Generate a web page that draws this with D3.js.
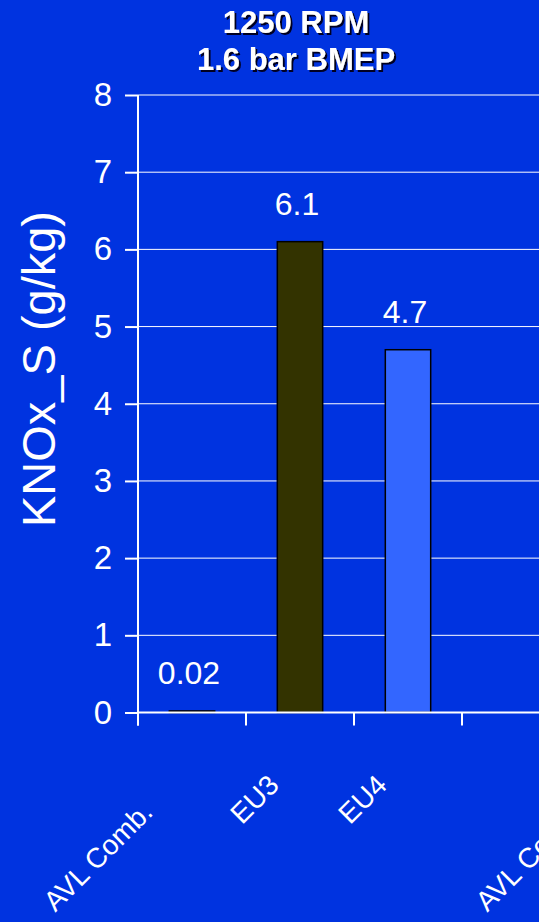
<!DOCTYPE html>
<html>
<head>
<meta charset="utf-8">
<script src="https://cdn.jsdelivr.net/npm/d3@7"></script>
<style>
  html, body { margin: 0; padding: 0; background: #0033e0; }
  svg { display: block; }
  text { font-family: "Liberation Sans", Arial, sans-serif; fill: #ffffff; }
</style>
</head>
<body>
<script>
// Category axis (a blank slot separates the groups; the next group continues past the right edge)
const categories = ["AVL Comb.", "EU3", "EU4", "", "AVL Comb."];
// KNOx_S in g/kg at 1250 RPM / 1.6 bar BMEP
const knox = [0.02, 6.1, 4.7, null, null];
const barFills = ["#111111", "#333300", "#3366ff", null, null];
const yTicks = [0, 1, 2, 3, 4, 5, 6, 7, 8];
const titleLines = ["1250 RPM", "1.6 bar BMEP"];
const yTitle = "KNOx_S (g/kg)";

const W = 539, H = 922;
const bg = "#0033e0";
const plot = { left: 138, top: 95, bottom: 712.5, step: 108 };

const svg = d3.select("body").append("svg")
  .attr("width", W).attr("height", H);

// hard dark shadow for the title
svg.append("defs").append("filter")
  .attr("id", "titleShadow")
  .attr("x", "-10%").attr("y", "-30%").attr("width", "120%").attr("height", "160%")
  .append("feDropShadow")
  .attr("dx", 2).attr("dy", 2).attr("stdDeviation", 0)
  .attr("flood-color", "#000022").attr("flood-opacity", 1);

svg.append("rect").attr("width", W).attr("height", H).attr("fill", bg);

const idx = d3.range(categories.length);
const x = d3.scaleBand()
  .domain(idx)
  .range([plot.left, plot.left + plot.step * categories.length])
  .paddingInner(0.58)
  .paddingOuter(0.29);
const step = x.step();
const gapHalf = x.paddingInner() * step / 2;

const y = d3.scaleLinear().domain([0, 8]).range([plot.bottom, plot.top]);

// gridlines
svg.append("g").selectAll("line")
  .data(yTicks.filter(t => t > 0))
  .join("line")
  .attr("x1", plot.left).attr("x2", W)
  .attr("y1", d => y(d)).attr("y2", d => y(d))
  .attr("stroke", "#ffffff").attr("stroke-width", 1);

// bars
const barData = idx.filter(i => knox[i] != null);
svg.append("g").selectAll("rect")
  .data(barData)
  .join("rect")
  .attr("x", i => x(i))
  .attr("width", x.bandwidth())
  .attr("y", i => y(knox[i]))
  .attr("height", i => Math.max(0.5, y(0) - y(knox[i])))
  .attr("fill", i => barFills[i])
  .attr("stroke", "#000000")
  .attr("stroke-width", 1.5);

// value labels
svg.append("g").selectAll("text")
  .data(barData)
  .join("text")
  .attr("x", i => x(i) + x.bandwidth() / 2 - 3)
  .attr("y", i => y(knox[i]) - 27)
  .attr("text-anchor", "middle")
  .style("font-size", "32px")
  .text(i => String(knox[i]));

// y axis
const yAxis = d3.axisLeft(y)
  .tickValues(yTicks)
  .tickSize(13)
  .tickSizeOuter(0)
  .tickPadding(13)
  .tickFormat(d3.format("d"));
const gy = svg.append("g")
  .attr("transform", `translate(${plot.left},0)`)
  .call(yAxis);
gy.select(".domain").remove();
gy.selectAll(".tick line").attr("stroke", "#ffffff").attr("stroke-width", 2);
gy.selectAll(".tick text")
  .attr("fill", "#ffffff")
  .style("font-size", "33px")
  .style("font-family", "'Liberation Sans', Arial, sans-serif");

svg.append("line")
  .attr("x1", plot.left).attr("x2", plot.left)
  .attr("y1", y(8)).attr("y2", plot.bottom + 13)
  .attr("stroke", "#ffffff").attr("stroke-width", 2);

// x axis line and category boundary ticks
svg.append("line")
  .attr("x1", plot.left).attr("x2", W)
  .attr("y1", plot.bottom).attr("y2", plot.bottom)
  .attr("stroke", "#ffffff").attr("stroke-width", 2);

const bounds = idx.map(i => x(i) - gapHalf);
svg.append("g").selectAll("line")
  .data(bounds)
  .join("line")
  .attr("x1", d => d).attr("x2", d => d)
  .attr("y1", plot.bottom).attr("y2", plot.bottom + 13)
  .attr("stroke", "#ffffff").attr("stroke-width", 2);

// category labels, rotated 45 degrees; longer labels sit a little lower
const xl = svg.append("g").selectAll("text")
  .data(idx.filter(i => categories[i] !== ""))
  .join("text")
  .attr("text-anchor", "end")
  .style("font-size", "28px")
  .text(i => categories[i]);
xl.each(function (i) {
  const len = this.getComputedTextLength();
  const ay = 769.5 + 0.103 * len;
  d3.select(this)
    .attr("transform", `translate(${x(i) + x.bandwidth() / 2 - 8},${ay}) rotate(-45)`)
    .attr("x", -0.3 * len);
});

// y axis title
svg.append("text")
  .attr("transform", `translate(55,369) rotate(-90)`)
  .attr("text-anchor", "middle")
  .style("font-size", "47px")
  .text(yTitle);

// title
svg.append("g").selectAll("text")
  .data(titleLines)
  .join("text")
  .attr("x", 296)
  .attr("y", (d, k) => 33 + k * 37)
  .attr("text-anchor", "middle")
  .attr("filter", "url(#titleShadow)")
  .style("font-size", "31px").style("font-weight", "bold")
  .text(d => d);
</script>
</body>
</html>
